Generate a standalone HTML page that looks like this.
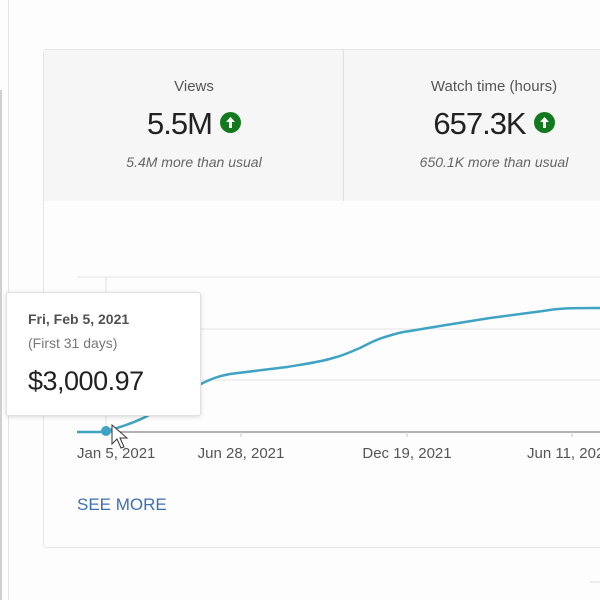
<!DOCTYPE html>
<html><head><style>
body{margin:0;width:600px;height:600px;background:#fdfdfd;font-family:"Liberation Sans",sans-serif;position:relative;overflow:hidden}
.a{position:absolute}
.c{text-align:center}
.ic{display:inline-block;width:21px;height:21px;border-radius:50%;background:#13791f;vertical-align:middle;margin-left:8px;position:relative;top:-3px}
.ic svg{display:block}
</style></head><body>
<div class="a" style="left:8px;top:0;width:1px;height:600px;background:#e4e4e4"></div>
<div class="a" style="left:0;top:90px;width:2px;height:510px;background:#d0d0d0"></div>
<div class="a" style="left:43px;top:49px;width:600px;height:497px;border:1px solid #e6e6e6;border-radius:3px;background:#fdfdfd"></div>
<div class="a" style="left:44px;top:50px;width:560px;height:151px;background:#f6f6f7"></div>
<div class="a" style="left:343px;top:50px;width:1px;height:151px;background:#e0e0e0"></div>
<div class="a c" style="left:44px;width:300px;top:78px;font-size:15px;color:#555">Views</div>
<div class="a c" style="left:44px;width:300px;top:106px;font-size:31px;color:#222;letter-spacing:-1px">5.5M<span class="ic"><svg width="21" height="21" viewBox="0 0 21 21"><path d="M10.5 5 L15 10 H12 V16 H9 V10 H6 Z" fill="#fff"/></svg></span></div>
<div class="a c" style="left:44px;width:300px;top:154px;font-size:14px;color:#666;font-style:italic">5.4M more than usual</div>
<div class="a c" style="left:344px;width:300px;top:78px;font-size:15px;color:#555">Watch time (hours)</div>
<div class="a c" style="left:344px;width:300px;top:106px;font-size:31px;color:#222;letter-spacing:-1px">657.3K<span class="ic"><svg width="21" height="21" viewBox="0 0 21 21"><path d="M10.5 5 L15 10 H12 V16 H9 V10 H6 Z" fill="#fff"/></svg></span></div>
<div class="a c" style="left:344px;width:300px;top:154px;font-size:14px;color:#666;font-style:italic">650.1K more than usual</div>
<svg class="a" style="left:0;top:0" width="600" height="600">
<line x1="77" y1="277" x2="600" y2="277" stroke="#e4e4e4"/>
<line x1="77" y1="329" x2="600" y2="329" stroke="#e4e4e4"/>
<line x1="77" y1="380" x2="600" y2="380" stroke="#e4e4e4"/>
<line x1="77" y1="432" x2="600" y2="432" stroke="#999" stroke-width="1.5"/>
<line x1="106" y1="277" x2="106" y2="432" stroke="#e0e0e0"/>
<line x1="241" y1="432" x2="241" y2="437" stroke="#ccc"/>
<line x1="407" y1="432" x2="407" y2="437" stroke="#ccc"/>
<line x1="572" y1="432" x2="572" y2="437" stroke="#ccc"/>
<path fill="none" stroke="#3fa3c4" stroke-width="2.5" d="M77,432 L100,432 L106,431 C125,426 140,420 149,415 C165,405 185,390 199,385 C212,378 220,376 230,374 L287,367 C305,364 320,362 333,358 C345,355 350,352 360,348 C370,343 375,340 385,337 C395,334 400,332 410,331 L440,326 L490,318 L543,311 C560,308 570,308 600,308"/>
<circle cx="106" cy="431" r="5" fill="#3fa3c4"/>
<line x1="590" y1="582" x2="600" y2="582" stroke="#ddd"/>
</svg>
<div class="a" style="left:77px;top:445px;font-size:15px;color:#555">Jan 5, 2021</div>
<div class="a c" style="left:181px;width:120px;top:445px;font-size:15px;color:#555">Jun 28, 2021</div>
<div class="a c" style="left:347px;width:120px;top:445px;font-size:15px;color:#555">Dec 19, 2021</div>
<div class="a" style="left:527px;top:445px;font-size:15px;color:#555;white-space:nowrap">Jun 11, 2022</div>
<div class="a" style="left:77px;top:495px;font-size:17px;color:#3d70b2">SEE MORE</div>
<div class="a" style="left:6px;top:292px;width:193px;height:122px;background:#fff;border:1px solid #e2e2e2;border-radius:3px;box-shadow:0 1px 4px rgba(0,0,0,.15)">
<div class="a" style="left:21px;top:18px;font-size:14px;color:#333;font-weight:bold;opacity:.85">Fri, Feb 5, 2021</div>
<div class="a" style="left:21px;top:42px;font-size:14px;color:#777">(First 31 days)</div>
<div class="a" style="left:21px;top:73px;font-size:27px;color:#222;letter-spacing:-0.5px">$3,000.97</div>
</div>
<svg class="a" style="left:111px;top:424px" width="20" height="30"><path d="M1 1 L1 20 L6 15 L10 24 L13 23 L9 14 L16 14 Z" fill="#fff" stroke="#333"/></svg>
</body></html>
